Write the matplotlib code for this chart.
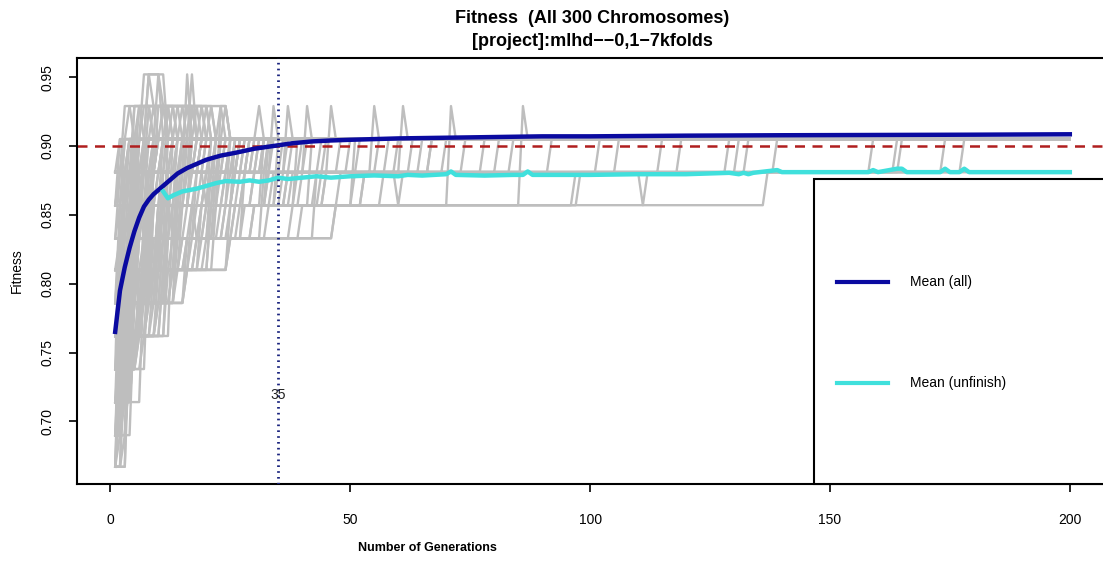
import matplotlib
matplotlib.use("Agg")
import matplotlib.pyplot as plt
from matplotlib.patches import Rectangle

plt.rcParams['font.family'] = ['Liberation Sans', 'DejaVu Sans']

# ---------------- data ----------------
GEN_END = 200

# mean fitness over all chromosomes
mean_all_gen = [1, 2, 3, 4, 5, 6, 7, 8, 9, 10, 12, 14, 16, 18, 20, 23, 26, 30, 34, 38,
                42, 46, 50, 55, 60, 70, 80, 90, 100, 120, 140, 160, 180, 200]
mean_all_val = [0.765, 0.795, 0.812, 0.826, 0.838, 0.848, 0.856, 0.861, 0.865, 0.868,
                0.874, 0.880, 0.884, 0.887, 0.890, 0.893, 0.895, 0.898, 0.900, 0.902,
                0.9033, 0.904, 0.9045, 0.905, 0.9055, 0.906, 0.9065, 0.907, 0.907,
                0.9075, 0.9078, 0.908, 0.9082, 0.9085]

# mean fitness over unfinished chromosomes
mean_unf_gen = [11, 12, 13, 15, 18, 20, 22, 24, 27, 29, 31, 33, 35, 37, 40, 43, 46, 50,
                55, 60, 62, 65, 70, 71, 72, 78, 84, 86, 87, 88, 95, 100, 110, 120, 129,
                131, 132, 133, 134, 139, 140, 158, 159, 160, 164, 165, 166, 173, 174,
                175, 177, 178, 179, 200]
mean_unf_val = [0.867, 0.862, 0.864, 0.867, 0.869, 0.871, 0.873, 0.8745, 0.874, 0.875,
                0.874, 0.875, 0.877, 0.876, 0.877, 0.878, 0.877, 0.878, 0.8786, 0.878,
                0.879, 0.8785, 0.8795, 0.8815, 0.879, 0.8785, 0.879, 0.879, 0.8815,
                0.879, 0.879, 0.879, 0.8795, 0.8795, 0.8805, 0.8795, 0.8805, 0.8795,
                0.8805, 0.8825, 0.881, 0.881, 0.8825, 0.881, 0.8835, 0.8835, 0.881,
                0.881, 0.8835, 0.881, 0.881, 0.8835, 0.881, 0.881]

# individual chromosome trajectories: (generation, fitness) where the level changes
chromosomes = [
    # early improvers
    [(1, .857), (2, .881), (3, .905)],
    [(1, .833), (2, .857), (3, .881), (4, .905)],
    [(1, .810), (2, .833), (3, .857), (4, .881), (5, .905)],
    [(1, .786), (2, .833), (4, .857), (5, .881), (6, .905)],
    [(1, .762), (2, .810), (3, .833), (5, .857), (6, .881), (7, .905)],
    [(1, .738), (2, .786), (4, .833), (6, .857), (7, .881), (8, .905)],
    [(1, .714), (2, .762), (3, .810), (5, .833), (7, .857), (8, .881), (9, .905)],
    [(1, .690), (2, .738), (3, .786), (6, .833), (8, .857), (9, .881), (10, .905)],
    [(1, .667), (2, .714), (3, .762), (4, .810), (7, .833), (9, .857), (10, .881), (11, .905)],
    [(1, .786), (3, .810), (5, .857), (10, .881), (12, .905)],
    [(1, .810), (4, .833), (6, .857), (11, .881), (13, .905)],
    [(1, .762), (4, .786), (6, .833), (8, .857), (12, .881), (14, .905)],
    [(1, .738), (3, .762), (5, .810), (9, .857), (13, .881), (15, .905)],
    [(1, .833), (7, .857), (14, .881), (16, .905)],
    [(1, .714), (4, .738), (5, .786), (8, .833), (11, .857), (15, .881), (17, .905)],
    [(1, .786), (6, .810), (9, .833), (12, .857), (16, .881), (18, .905)],
    [(1, .690), (3, .714), (4, .762), (7, .810), (10, .833), (13, .857), (17, .881), (19, .905)],
    [(1, .762), (7, .786), (11, .833), (14, .857), (18, .881), (20, .905)],
    [(1, .810), (8, .833), (15, .857), (19, .881), (21, .905)],
    [(1, .738), (6, .786), (10, .810), (12, .833), (16, .857), (20, .881), (22, .905)],
    [(1, .833), (8, .857), (21, .881), (23, .905)],
    [(1, .786), (7, .810), (13, .833), (17, .857), (22, .881), (24, .905)],
    [(1, .762), (5, .786), (9, .810), (14, .833), (18, .857), (23, .881), (25, .905)],
    [(1, .810), (10, .857), (24, .881), (26, .905)],
    [(1, .714), (5, .762), (11, .810), (16, .833), (20, .857), (25, .881), (27, .905)],
    [(1, .833), (3, .857), (26, .881), (28, .905)],
    [(1, .786), (10, .833), (19, .857), (27, .881), (29, .905)],
    [(1, .738), (7, .762), (12, .810), (18, .833), (22, .857), (28, .881), (30, .905)],
    [(1, .857), (4, .881), (31, .905)],
    [(1, .810), (11, .833), (24, .857), (30, .881), (32, .905)],
    [(1, .762), (8, .786), (14, .810), (21, .857), (33, .905)],
    [(1, .857), (5, .881), (34, .929), (35, .905)],
    [(1, .833), (9, .857), (26, .881), (36, .905)],
    [(1, .881), (37, .929), (38, .905)],
    [(1, .881), (2, .905)],
    [(1, .857), (2, .905)],
    [(1, .881), (3, .905), (6, .929), (9, .905)],
    # multi-level jumps
    [(1, .667), (4, .810), (8, .881), (13, .905)],
    [(1, .667), (2, .786), (6, .857), (9, .905)],
    [(1, .690), (4, .833), (7, .905)],
    [(1, .690), (2, .762), (5, .881), (10, .905)],
    [(1, .714), (2, .810), (5, .905)],
    [(1, .714), (5, .833), (11, .881), (18, .905)],
    [(1, .738), (3, .833), (9, .905)],
    [(1, .738), (2, .857), (6, .905)],
    [(1, .762), (3, .857), (8, .905)],
    [(1, .762), (5, .857), (11, .905)],
    [(1, .762), (7, .857), (16, .905)],
    [(1, .786), (2, .857), (4, .905)],
    [(1, .786), (5, .881), (10, .905)],
    [(1, .786), (8, .857), (17, .905)],
    [(1, .786), (12, .881), (24, .905)],
    [(1, .810), (3, .881), (7, .905)],
    [(1, .810), (5, .881), (15, .905)],
    [(1, .810), (6, .833), (13, .857), (23, .905)],
    [(1, .810), (11, .881), (28, .905)],
    [(1, .833), (4, .881), (9, .905)],
    [(1, .833), (6, .905)],
    [(1, .833), (8, .881), (19, .905)],
    [(1, .833), (12, .857), (20, .881), (30, .905)],
    [(1, .833), (15, .857), (25, .905)],
    [(1, .857), (3, .905)],
    [(1, .857), (6, .881), (13, .905)],
    [(1, .857), (9, .881), (18, .905)],
    [(1, .857), (12, .881), (27, .905)],
    [(1, .857), (16, .881), (32, .905)],
    [(1, .857), (21, .881), (29, .905)],
    [(1, .881), (4, .905)],
    [(1, .881), (6, .905)],
    [(1, .881), (11, .905)],
    [(1, .881), (16, .905)],
    [(1, .881), (22, .905)],
    [(1, .881), (27, .905)],
    [(1, .881), (33, .905)],
    [(1, .762), (4, .810), (6, .857), (14, .881), (19, .905)],
    [(1, .738), (4, .810), (8, .833), (14, .857), (24, .881), (34, .905)],
    [(1, .714), (3, .762), (6, .786), (12, .833), (21, .857), (26, .881), (37, .905)],
    # low starters
    [(1, .667), (2, .738), (3, .810), (5, .857), (8, .881), (11, .905)],
    [(1, .667), (2, .762), (4, .833), (7, .881), (16, .905)],
    [(1, .667), (3, .786), (5, .833), (9, .881), (19, .905)],
    [(1, .667), (3, .738), (6, .786), (10, .857), (20, .881), (33, .905)],
    [(1, .667), (3, .690), (4, .738), (6, .810), (12, .857), (26, .905)],
    [(1, .667), (2, .690), (3, .738), (5, .786), (8, .857), (15, .905)],
    [(1, .667), (4, .762), (7, .833), (12, .905)],
    [(1, .690), (2, .786), (4, .857), (21, .905)],
    [(1, .690), (3, .810), (6, .857), (12, .881), (23, .905)],
    [(1, .690), (3, .738), (5, .786), (9, .833), (22, .881), (40, .905)],
    [(1, .690), (5, .786), (14, .857), (40, .881), (67, .905)],
    [(1, .690), (4, .738), (6, .786), (9, .857), (17, .905)],
    [(1, .690), (2, .714), (5, .762), (8, .810), (14, .881), (25, .905)],
    [(1, .714), (3, .738), (6, .810), (10, .857), (14, .905)],
    [(1, .714), (4, .786), (7, .833), (15, .881), (27, .905)],
    [(1, .714), (7, .810), (21, .857), (35, .881), (63, .905)],
    [(1, .714), (4, .762), (9, .810), (19, .857), (30, .881), (52, .905)],
    [(1, .714), (4, .738), (6, .762), (10, .810), (15, .857), (22, .905)],
    [(1, .714), (2, .738), (5, .786), (10, .833), (18, .881), (26, .905)],
    [(1, .738), (4, .786), (7, .810), (11, .857), (17, .881), (29, .905)],
    [(1, .738), (5, .762), (8, .786), (13, .810), (17, .833), (21, .881), (31, .905)],
    [(1, .738), (8, .833), (30, .857), (51, .881), (58, .905)],
    [(1, .738), (3, .786), (6, .833), (13, .905)],
    [(1, .738), (5, .810), (9, .881), (20, .905)],
    [(1, .762), (9, .786), (12, .810), (15, .833), (23, .857), (32, .905)],
    [(1, .762), (12, .833), (19, .857), (33, .881), (45, .905)],
    [(1, .762), (13, .857), (39, .881), (106, .905)],
    [(1, .762), (8, .810), (16, .833), (43, .881), (92, .905)],
    [(1, .786), (13, .810), (20, .833), (26, .857), (35, .905)],
    [(1, .786), (14, .833), (28, .881), (38, .905)],
    [(1, .810), (18, .833), (25, .857), (34, .881), (41, .905)],
    # excursions to the top levels
    [(1, .857), (3, .905), (4, .929), (22, .905)],
    [(1, .833), (3, .881), (5, .929), (25, .905)],
    [(1, .810), (3, .857), (5, .905), (7, .952), (12, .905)],
    [(1, .786), (3, .881), (6, .929), (12, .905)],
    [(1, .810), (3, .833), (6, .881), (10, .929), (21, .905)],
    [(1, .833), (2, .881), (4, .905), (8, .952), (11, .929), (14, .905)],
    [(1, .857), (4, .881), (8, .929), (20, .905)],
    [(1, .857), (6, .905), (10, .952), (11, .905)],
    [(1, .810), (4, .857), (9, .881), (16, .952), (17, .905)],
    [(1, .762), (4, .833), (8, .881), (17, .929), (18, .905)],
    [(1, .810), (9, .857), (23, .929), (25, .905)],
    [(1, .881), (5, .905), (7, .929), (9, .905), (13, .929), (15, .905)],
    [(1, .857), (2, .881), (6, .905), (9, .929), (10, .905), (19, .929), (20, .905)],
    [(1, .833), (5, .905), (14, .929), (16, .905), (24, .929), (25, .905)],
    [(1, .881), (10, .905), (11, .929), (13, .905), (21, .929), (22, .905)],
    [(1, .857), (7, .905), (15, .929), (18, .905)],
    [(1, .786), (4, .857), (6, .905), (8, .952), (9, .929), (12, .905)],
    [(1, .881), (12, .929), (13, .905), (17, .952), (18, .905)],
    [(1, .881), (3, .929), (5, .905)],
    [(1, .857), (5, .929), (7, .905), (16, .929), (17, .905)],
    [(1, .833), (7, .905), (12, .929), (14, .905), (20, .929), (21, .905)],
    [(1, .881), (14, .905), (18, .929), (19, .905), (23, .929), (24, .905)],
    # later improvers
    [(1, .738), (4, .762), (10, .786), (16, .833), (27, .857), (45, .881), (129, .905)],
    [(1, .738), (6, .762), (11, .810), (25, .833), (47, .857), (98, .881), (133, .905)],
    [(1, .762), (10, .786), (16, .810), (25, .857), (37, .881), (55, .929), (56, .905)],
    [(1, .786), (5, .810), (15, .833), (24, .857), (43, .881), (159, .905)],
    [(1, .786), (16, .810), (22, .857), (39, .905)],
    [(1, .786), (9, .857), (42, .905)],
    [(1, .786), (6, .881), (70, .905)],
    [(1, .786), (11, .833), (38, .857), (57, .881), (81, .905)],
    [(1, .810), (12, .833), (20, .857), (48, .881), (164, .905)],
    [(1, .810), (25, .833), (32, .881), (41, .929), (42, .905)],
    [(1, .810), (10, .857), (38, .881), (50, .905)],
    [(1, .810), (17, .857), (53, .881), (102, .905)],
    [(1, .810), (14, .857), (44, .881), (115, .905)],
    [(1, .810), (19, .833), (33, .857), (53, .881), (60, .905)],
    [(1, .833), (47, .857), (137, .881)],
    [(1, .833), (14, .881), (46, .929), (47, .905)],
    [(1, .833), (9, .881), (61, .929), (62, .905)],
    [(1, .833), (26, .857), (36, .881), (119, .905)],
    [(1, .833), (28, .857), (45, .881), (56, .905)],
    [(1, .833), (40, .857), (51, .905)],
    [(1, .857), (28, .881), (44, .905)],
    [(1, .857), (33, .881), (48, .905)],
    [(1, .857), (37, .881), (67, .905)],
    [(1, .857), (18, .833), (30, .857), (86, .929), (87, .905)],
    [(1, .857), (97, .881), (131, .905)],
    [(1, .881), (20, .857), (71, .929), (72, .905)],
    [(1, .881), (8, .905), (31, .929), (32, .905)],
    [(1, .881), (60, .857), (61, .881), (139, .905)],
    [(1, .881), (111, .857), (112, .881), (174, .905)],
    [(1, .881), (178, .905)],
    [(1, .881), (65, .905)],
    [(1, .881), (165, .905)],
    [(1, .881)],
    [(1, .881), (74, .905)],
    [(1, .881), (78, .905)],
    [(1, .881), (84, .905)],
]

threshold = 0.90
best_gen = 35
x_ticks = [0, 50, 100, 150, 200]
y_ticks = [0.70, 0.75, 0.80, 0.85, 0.90, 0.95]
y_ticklabels = ["0.70", "0.75", "0.80", "0.85", "0.90", "0.95"]
legend_labels = ["Mean (all)", "Mean (unfinish)"]
title = "Fitness  (All 300 Chromosomes)\n[project]:mlhd\u2212\u22120,1\u22127kfolds"

# ---------------- styling ----------------
C_GRAY = "#BEBEBE"
C_BLUE = "#0A0AA0"
C_CYAN = "#40E0DC"
C_RED = "#B01E1E"
C_DOT = "#1A237E"


def expand(knots, end=GEN_END):
    xs, ys = [], []
    for i, (g, v) in enumerate(knots):
        xs.append(g)
        ys.append(v)
        nxt = knots[i + 1][0] if i + 1 < len(knots) else end + 1
        if nxt - 1 > g:
            xs.append(nxt - 1)
            ys.append(v)
    return xs, ys


fig = plt.figure(figsize=(11.03, 5.62), dpi=100)
ax = fig.add_axes([77 / 1103, 78 / 562, 1031 / 1103, 426 / 562])

for ch in chromosomes:
    xs, ys = expand(ch)
    ax.plot(xs, ys, color=C_GRAY, lw=1.7, zorder=1)

ax.axhline(threshold, color=C_RED, lw=1.8, ls=(0, (4, 3)), zorder=2)
l_all, = ax.plot(mean_all_gen, mean_all_val, color=C_BLUE, lw=3.2, zorder=3)
l_unf, = ax.plot(mean_unf_gen, mean_unf_val, color=C_CYAN, lw=3.2, zorder=3)
ax.axvline(best_gen, color=C_DOT, lw=2.0, ls=(0, (0.6, 1.5)), zorder=4)
ax.text(best_gen, 0.719, str(best_gen), ha='center', va='center', fontsize=10,
        color='#222222', zorder=5)

ax.set_xlim(-6.96, 207.96)
ax.set_ylim(0.6545, 0.9639)
ax.set_xticks(x_ticks)
ax.set_xticklabels([str(t) for t in x_ticks], fontsize=10)
ax.set_yticks(y_ticks)
ax.set_yticklabels(y_ticklabels, fontsize=10, rotation=90, va='center')
ax.tick_params(direction='out', length=6, width=1.2)
ax.tick_params(axis='x', pad=15)
ax.tick_params(axis='y', pad=10)
for s in ax.spines.values():
    s.set_linewidth(1.5)

ax.set_title(title, fontsize=13, fontweight='bold', pad=9, linespacing=1.45)
ax.set_ylabel("Fitness", fontsize=10, labelpad=12)
fig.text(427 / 1103, 1 - 548 / 562, "Number of Generations", ha='center', va='center',
         fontsize=9, fontweight='bold', family=['Liberation Sans Narrow', 'Liberation Sans'])

# legend box
box = Rectangle((0.715, 0.0), 0.4, 0.716, transform=ax.transAxes, facecolor='white',
                edgecolor='black', lw=1.5, zorder=10, clip_on=False)
ax.add_patch(box)
for yy, ln, lab in [(0.475, l_all, legend_labels[0]), (0.237, l_unf, legend_labels[1])]:
    ax.plot([0.737, 0.787], [yy, yy], transform=ax.transAxes, color=ln.get_color(),
            lw=3, zorder=11, clip_on=False)
    ax.text(0.808, yy, lab, transform=ax.transAxes, fontsize=10, va='center',
            ha='left', zorder=11)

fig.savefig("out.png", dpi=100)
